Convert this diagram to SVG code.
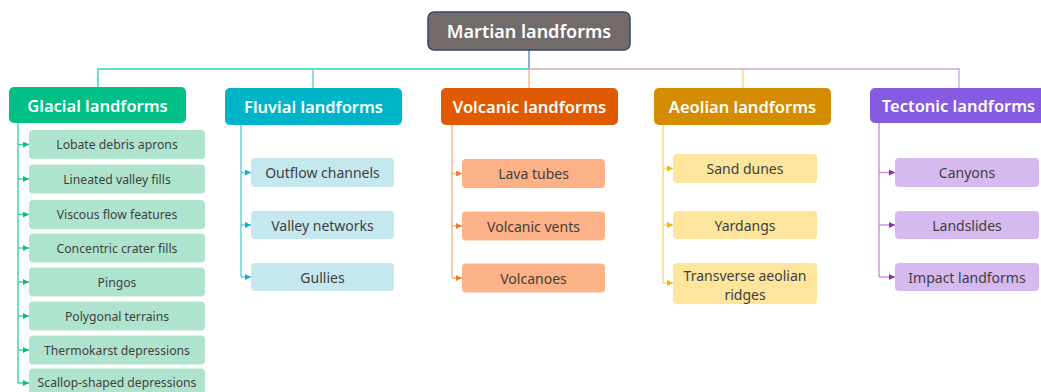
<svg xmlns="http://www.w3.org/2000/svg" width="1041" height="392" viewBox="0 0 1041 392">
  <defs>
    <style>
      .t { font-family: "Noto Sans", "Open Sans", "Liberation Sans", sans-serif; text-anchor: middle; dominant-baseline: central; }
      .root-t { font-size: 18px; font-weight: 600; fill: #ffffff; }
      .cat-t { font-size: 16.5px; font-weight: 600; fill: #ffffff; }
      .leaf-t { font-size: 14px; fill: #3f3f3f; }
      .leaf-s { font-size: 12.2px; fill: #3f3f3f; }
      .line { fill: none; stroke-width: 1.4; }
    </style>
    <marker id="ah-gla" viewBox="0 0 6 6" refX="6" refY="3" markerWidth="6" markerHeight="6" markerUnits="userSpaceOnUse" orient="auto"><path d="M0,0 L6,3 L0,6 Z" fill="#12b886"/></marker>
    <marker id="ah-flu" viewBox="0 0 6 6" refX="6" refY="3" markerWidth="6" markerHeight="6" markerUnits="userSpaceOnUse" orient="auto"><path d="M0,0 L6,3 L0,6 Z" fill="#12b0c4"/></marker>
    <marker id="ah-vol" viewBox="0 0 6 6" refX="6" refY="3" markerWidth="6" markerHeight="6" markerUnits="userSpaceOnUse" orient="auto"><path d="M0,0 L6,3 L0,6 Z" fill="#f07a2a"/></marker>
    <marker id="ah-aeo" viewBox="0 0 6 6" refX="6" refY="3" markerWidth="6" markerHeight="6" markerUnits="userSpaceOnUse" orient="auto"><path d="M0,0 L6,3 L0,6 Z" fill="#f5b400"/></marker>
    <marker id="ah-tec" viewBox="0 0 6 6" refX="6" refY="3" markerWidth="6" markerHeight="6" markerUnits="userSpaceOnUse" orient="auto"><path d="M0,0 L6,3 L0,6 Z" fill="#8a2fa8"/></marker>
  </defs>

  <rect width="1041" height="392" fill="#ffffff"/>

  <!-- connectors -->
  <g id="connectors">
    <!-- root to categories -->
    <path class="line" stroke="#2fd6a6" d="M529,50 V69 H98 V87"/>
    <path class="line" stroke="#5ccfdc" d="M313,69 V88"/>
    <path class="line" stroke="#f8b184" d="M529,69 V88"/>
    <path class="line" stroke="#d9a7a4" d="M529,69 H743"/>
    <path class="line" stroke="#fbd57a" d="M743,69 V88"/>
    <path class="line" stroke="#caa6e2" d="M743,69 H959 V88"/>
    <path class="line" stroke="#9a94d6" d="M529,50 V69"/>

    <!-- glacial leaves -->
    <g stroke="#2fd6a6" class="line">
      <path d="M18,123 V383"/>
      <path d="M18,144.5 H29" marker-end="url(#ah-gla)"/>
      <path d="M18,179 H29" marker-end="url(#ah-gla)"/>
      <path d="M18,214.5 H29" marker-end="url(#ah-gla)"/>
      <path d="M18,248 H29" marker-end="url(#ah-gla)"/>
      <path d="M18,282 H29" marker-end="url(#ah-gla)"/>
      <path d="M18,316 H29" marker-end="url(#ah-gla)"/>
      <path d="M18,350 H29" marker-end="url(#ah-gla)"/>
      <path d="M18,383 H29" marker-end="url(#ah-gla)"/>
    </g>
    <!-- fluvial leaves -->
    <g stroke="#5ccfdc" class="line">
      <path d="M241,125 V277"/>
      <path d="M241,172.5 H251" marker-end="url(#ah-flu)"/>
      <path d="M241,225 H251" marker-end="url(#ah-flu)"/>
      <path d="M241,277 H251" marker-end="url(#ah-flu)"/>
    </g>
    <!-- volcanic leaves -->
    <g stroke="#f8b184" class="line">
      <path d="M452,125 V278"/>
      <path d="M452,173.5 H462" marker-end="url(#ah-vol)"/>
      <path d="M452,226 H462" marker-end="url(#ah-vol)"/>
      <path d="M452,278 H462" marker-end="url(#ah-vol)"/>
    </g>
    <!-- aeolian leaves -->
    <g stroke="#fbd57a" class="line">
      <path d="M663,125 V283"/>
      <path d="M663,168.5 H673" marker-end="url(#ah-aeo)"/>
      <path d="M663,225 H673" marker-end="url(#ah-aeo)"/>
      <path d="M663,283 H673" marker-end="url(#ah-aeo)"/>
    </g>
    <!-- tectonic leaves -->
    <g stroke="#c58fd8" class="line">
      <path d="M879,123 V277"/>
      <path d="M879,172.5 H895" marker-end="url(#ah-tec)"/>
      <path d="M879,225 H895" marker-end="url(#ah-tec)"/>
      <path d="M879,277 H895" marker-end="url(#ah-tec)"/>
    </g>
  </g>

  <!-- root -->
  <g id="root">
    <rect x="428" y="12" width="202" height="38" rx="6" fill="#736a6a" stroke="#2f4a6c" stroke-width="1.5"/>
    <text class="t root-t" x="529" y="31">Martian landforms</text>
  </g>

  <!-- categories -->
  <g id="glacial">
    <rect x="9" y="87" width="177" height="36" rx="5" fill="#00c087"/>
    <text class="t cat-t" x="97.5" y="105">Glacial landforms</text>
  </g>
  <g id="fluvial">
    <rect x="225" y="88" width="177" height="37" rx="5" fill="#00b5c8"/>
    <text class="t cat-t" x="313.5" y="106.5">Fluvial landforms</text>
  </g>
  <g id="volcanic">
    <rect x="441" y="88" width="177" height="37" rx="5" fill="#e05a00"/>
    <text class="t cat-t" x="529.5" y="106.5">Volcanic landforms</text>
  </g>
  <g id="aeolian">
    <rect x="654" y="88" width="177" height="37" rx="5" fill="#d48c00"/>
    <text class="t cat-t" x="742.5" y="106.5">Aeolian landforms</text>
  </g>
  <g id="tectonic">
    <rect x="870" y="88" width="177" height="35" rx="5" fill="#875ae2"/>
    <text class="t cat-t" x="958.5" y="105.5">Tectonic landforms</text>
  </g>

  <!-- glacial leaves -->
  <g id="g-lobate"><rect x="29" y="130" width="176" height="29" rx="4" fill="#aee4cd"/><text class="t leaf-s" x="117" y="144.5">Lobate debris aprons</text></g>
  <g id="g-lineated"><rect x="29" y="164.5" width="176" height="29" rx="4" fill="#aee4cd"/><text class="t leaf-s" x="117" y="179">Lineated valley fills</text></g>
  <g id="g-viscous"><rect x="29" y="200" width="176" height="29" rx="4" fill="#aee4cd"/><text class="t leaf-s" x="117" y="214.5">Viscous flow features</text></g>
  <g id="g-concentric"><rect x="29" y="233.5" width="176" height="29" rx="4" fill="#aee4cd"/><text class="t leaf-s" x="117" y="248">Concentric crater fills</text></g>
  <g id="g-pingos"><rect x="29" y="267.5" width="176" height="29" rx="4" fill="#aee4cd"/><text class="t leaf-s" x="117" y="282">Pingos</text></g>
  <g id="g-polygonal"><rect x="29" y="301.5" width="176" height="29" rx="4" fill="#aee4cd"/><text class="t leaf-s" x="117" y="316">Polygonal terrains</text></g>
  <g id="g-thermokarst"><rect x="29" y="335.5" width="176" height="29" rx="4" fill="#aee4cd"/><text class="t leaf-s" x="117" y="350">Thermokarst depressions</text></g>
  <g id="g-scallop"><rect x="29" y="368.5" width="176" height="29" rx="4" fill="#aee4cd"/><text class="t leaf-s" x="117" y="382.5">Scallop-shaped depressions</text></g>

  <!-- fluvial leaves -->
  <g id="f-outflow"><rect x="251" y="158" width="143" height="29" rx="4" fill="#c5e8ef"/><text class="t leaf-t" x="322.5" y="172.5">Outflow channels</text></g>
  <g id="f-valley"><rect x="251" y="211" width="143" height="28" rx="4" fill="#c5e8ef"/><text class="t leaf-t" x="322.5" y="225">Valley networks</text></g>
  <g id="f-gullies"><rect x="251" y="263" width="143" height="28" rx="4" fill="#c5e8ef"/><text class="t leaf-t" x="322.5" y="277">Gullies</text></g>

  <!-- volcanic leaves -->
  <g id="v-lava"><rect x="462" y="159" width="143" height="29" rx="4" fill="#fdb186"/><text class="t leaf-t" x="533.5" y="173.5">Lava tubes</text></g>
  <g id="v-vents"><rect x="462" y="211.5" width="143" height="29" rx="4" fill="#fdb186"/><text class="t leaf-t" x="533.5" y="226">Volcanic vents</text></g>
  <g id="v-volcanoes"><rect x="462" y="263.5" width="143" height="29" rx="4" fill="#fdb186"/><text class="t leaf-t" x="533.5" y="278">Volcanoes</text></g>

  <!-- aeolian leaves -->
  <g id="a-dunes"><rect x="673" y="154" width="144" height="29" rx="4" fill="#fde59b"/><text class="t leaf-t" x="745" y="168.5">Sand dunes</text></g>
  <g id="a-yardangs"><rect x="673" y="211" width="144" height="28" rx="4" fill="#fde59b"/><text class="t leaf-t" x="745" y="225">Yardangs</text></g>
  <g id="a-ridges"><rect x="673" y="263" width="144" height="41" rx="4" fill="#fde59b"/><text class="t leaf-t" x="745" y="275">Transverse aeolian</text><text class="t leaf-t" x="745" y="294">ridges</text></g>

  <!-- tectonic leaves -->
  <g id="t-canyons"><rect x="895" y="158" width="144" height="29" rx="4" fill="#d6b9ef"/><text class="t leaf-t" x="967" y="172.5">Canyons</text></g>
  <g id="t-landslides"><rect x="895" y="211" width="144" height="28" rx="4" fill="#d6b9ef"/><text class="t leaf-t" x="967" y="225">Landslides</text></g>
  <g id="t-impact"><rect x="895" y="263" width="144" height="28" rx="4" fill="#d6b9ef"/><text class="t leaf-t" x="967" y="277">Impact landforms</text></g>
</svg>
